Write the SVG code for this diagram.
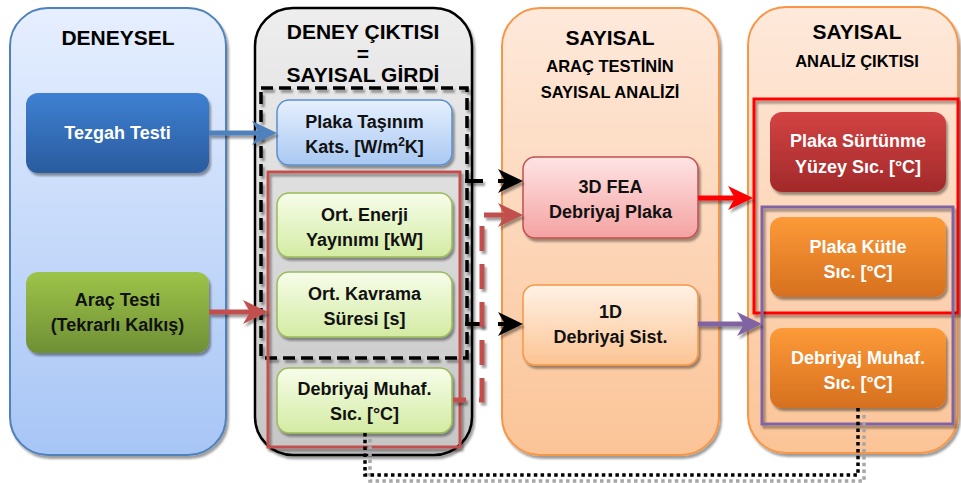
<svg xmlns="http://www.w3.org/2000/svg" width="961" height="483" viewBox="0 0 961 483">
  <style>
    text { font-family: "Liberation Sans", Arial, sans-serif; font-weight: bold; text-anchor: middle; }
    .title { font-size: 21px; fill: #000; }
    .sub { font-size: 16.5px; fill: #000; }
    .lbl { font-size: 18px; fill: #111; }
    .lblw { font-size: 18px; fill: #fff; }
    .sup { font-size: 12px; }
    .node { filter: url(#sh); }
    .col { filter: url(#sh); }
    .conn { fill: none; filter: url(#sh); }
  </style>
  <defs>
    <filter id="sh" filterUnits="userSpaceOnUse" x="0" y="0" width="961" height="483">
      <feDropShadow dx="2" dy="3" stdDeviation="1.2" flood-color="#000" flood-opacity="0.38"/>
    </filter>
    <linearGradient id="gColBlue" x1="0" y1="0" x2="0" y2="1">
      <stop offset="0" stop-color="#e6efff"/><stop offset="1" stop-color="#a7c5f5"/>
    </linearGradient>
    <linearGradient id="gColGray" x1="0" y1="0" x2="0" y2="1">
      <stop offset="0" stop-color="#eeeeee"/><stop offset="1" stop-color="#c6c6c6"/>
    </linearGradient>
    <linearGradient id="gColPeach" x1="0" y1="0" x2="0" y2="1">
      <stop offset="0" stop-color="#fee9db"/><stop offset="1" stop-color="#fbc497"/>
    </linearGradient>
    <linearGradient id="gBlue" x1="0" y1="0" x2="0" y2="1">
      <stop offset="0" stop-color="#3e80d2"/><stop offset="1" stop-color="#2a5b9e"/>
    </linearGradient>
    <linearGradient id="gGreen" x1="0" y1="0" x2="0" y2="1">
      <stop offset="0" stop-color="#9dc449"/><stop offset="1" stop-color="#6f8f35"/>
    </linearGradient>
    <linearGradient id="gLtBlue" x1="0" y1="0" x2="0" y2="1">
      <stop offset="0" stop-color="#e6f0ff"/><stop offset="1" stop-color="#a9c8f1"/>
    </linearGradient>
    <linearGradient id="gLtGreen" x1="0" y1="0" x2="0" y2="1">
      <stop offset="0" stop-color="#f7fdea"/><stop offset="1" stop-color="#d3eba3"/>
    </linearGradient>
    <linearGradient id="gPink" x1="0" y1="0" x2="0" y2="1">
      <stop offset="0" stop-color="#ffe4e4"/><stop offset="1" stop-color="#f4a2a2"/>
    </linearGradient>
    <linearGradient id="gLtOrange" x1="0" y1="0" x2="0" y2="1">
      <stop offset="0" stop-color="#fff2e6"/><stop offset="1" stop-color="#fcc493"/>
    </linearGradient>
    <linearGradient id="gDkRed" x1="0" y1="0" x2="0" y2="1">
      <stop offset="0" stop-color="#d34343"/><stop offset="1" stop-color="#a2292a"/>
    </linearGradient>
    <linearGradient id="gOrange" x1="0" y1="0" x2="0" y2="1">
      <stop offset="0" stop-color="#fd9a38"/><stop offset="1" stop-color="#d6701f"/>
    </linearGradient>
    <marker id="aBlue" markerUnits="userSpaceOnUse" markerWidth="26" markerHeight="26" viewBox="0 0 26 26" refX="11" refY="13" orient="auto">
      <path d="M0,1 L25,13 L0,25 L7,13 Z" fill="#4f81bd"/>
    </marker>
    <marker id="aRed" markerUnits="userSpaceOnUse" markerWidth="26" markerHeight="26" viewBox="0 0 26 26" refX="11" refY="13" orient="auto-start-reverse">
      <path d="M0,1 L25,13 L0,25 L7,13 Z" fill="#c0504d"/>
    </marker>
    <marker id="aBlack" markerUnits="userSpaceOnUse" markerWidth="26" markerHeight="26" viewBox="0 0 26 26" refX="11" refY="13" orient="auto">
      <path d="M0,1 L25,13 L0,25 L7,13 Z" fill="#000"/>
    </marker>
    <marker id="aBright" markerUnits="userSpaceOnUse" markerWidth="26" markerHeight="26" viewBox="0 0 26 26" refX="11" refY="13" orient="auto">
      <path d="M0,1 L25,13 L0,25 L7,13 Z" fill="#ff0000"/>
    </marker>
    <marker id="aPurple" markerUnits="userSpaceOnUse" markerWidth="26" markerHeight="26" viewBox="0 0 26 26" refX="11" refY="13" orient="auto">
      <path d="M0,1 L25,13 L0,25 L7,13 Z" fill="#8064a2"/>
    </marker>
  </defs>

  <rect width="961" height="483" fill="#fff"/>

  <!-- column containers -->
  <g id="col-deneysel">
    <rect class="col" x="10" y="8" width="216" height="447" rx="38" fill="url(#gColBlue)" stroke="#4f81bd" stroke-width="2"/>
    <text class="title" x="118" y="45">DENEYSEL</text>
  </g>
  <g id="col-deney-ciktisi">
    <rect class="col" x="255" y="8" width="217" height="447" rx="38" fill="url(#gColGray)" stroke="#000" stroke-width="2.5"/>
    <text class="title" x="363" y="39">DENEY ÇIKTISI</text>
    <text class="title" x="363" y="61">=</text>
    <text class="title" x="363" y="82">SAYISAL GİRDİ</text>
  </g>
  <g id="col-sayisal-analiz">
    <rect class="col" x="502" y="8" width="217" height="447" rx="38" fill="url(#gColPeach)" stroke="#f79646" stroke-width="2"/>
    <text class="title" x="610" y="45">SAYISAL</text>
    <text class="sub" x="610" y="72">ARAÇ TESTİNİN</text>
    <text class="sub" x="610" y="98">SAYISAL ANALİZİ</text>
  </g>
  <g id="col-analiz-ciktisi">
    <rect class="col" x="748" y="7" width="210" height="446" rx="38" fill="url(#gColPeach)" stroke="#f79646" stroke-width="2"/>
    <text class="title" x="857" y="39">SAYISAL</text>
    <text class="sub" x="857" y="67">ANALİZ ÇIKTISI</text>
  </g>

  <!-- grouping frames -->
  <g id="frame-girdi" fill="none">
    <rect x="261" y="88" width="206" height="270" stroke="#000" stroke-width="3.5" stroke-dasharray="12 6" filter="url(#sh)"/>
    <rect x="268" y="172" width="192" height="275" stroke="#c0504d" stroke-width="3" filter="url(#sh)"/>
  </g>
  <g id="frame-cikti" fill="none">
    <rect x="754" y="99" width="204" height="214" stroke="#ff0000" stroke-width="3" filter="url(#sh)"/>
    <rect x="762" y="207" width="191" height="217" stroke="#8064a2" stroke-width="3" filter="url(#sh)"/>
  </g>

  <!-- nodes -->
  <g id="tezgah-testi">
    <rect class="node" x="26" y="93" width="183" height="80" rx="12" fill="url(#gBlue)"/>
    <text class="lblw" x="117.5" y="139">Tezgah Testi</text>
  </g>
  <g id="arac-testi">
    <rect class="node" x="26" y="272" width="183" height="81" rx="12" fill="url(#gGreen)"/>
    <text class="lbl" x="117.5" y="306">Araç Testi</text>
    <text class="lbl" x="117.5" y="331">(Tekrarlı Kalkış)</text>
  </g>
  <g id="plaka-tasinim">
    <rect class="node" x="277" y="100" width="175" height="65" rx="12" fill="url(#gLtBlue)" stroke="#5b8fd0" stroke-width="1.5"/>
    <text class="lbl" x="364.5" y="128">Plaka Taşınım</text>
    <text class="lbl" x="364.5" y="153">Kats. [W/m<tspan class="sup" dy="-7">2</tspan><tspan dy="7">K]</tspan></text>
  </g>
  <g id="ort-enerji">
    <rect class="node" x="277" y="193" width="175" height="64" rx="12" fill="url(#gLtGreen)" stroke="#9bbb59" stroke-width="1.5"/>
    <text class="lbl" x="364.5" y="221">Ort. Enerji</text>
    <text class="lbl" x="364.5" y="246">Yayınımı [kW]</text>
  </g>
  <g id="ort-kavrama">
    <rect class="node" x="277" y="272" width="175" height="65" rx="12" fill="url(#gLtGreen)" stroke="#9bbb59" stroke-width="1.5"/>
    <text class="lbl" x="364.5" y="300">Ort. Kavrama</text>
    <text class="lbl" x="364.5" y="325">Süresi [s]</text>
  </g>
  <g id="debriyaj-muhaf-girdi">
    <rect class="node" x="277" y="368" width="175" height="65" rx="12" fill="url(#gLtGreen)" stroke="#9bbb59" stroke-width="1.5"/>
    <text class="lbl" x="364.5" y="395">Debriyaj Muhaf.</text>
    <text class="lbl" x="364.5" y="420">Sıc. [°C]</text>
  </g>
  <g id="fea-3d">
    <rect class="node" x="523" y="157" width="175" height="81" rx="12" fill="url(#gPink)" stroke="#c0504d" stroke-width="1.5"/>
    <text class="lbl" x="610.5" y="193">3D FEA</text>
    <text class="lbl" x="610.5" y="218">Debriyaj Plaka</text>
  </g>
  <g id="sist-1d">
    <rect class="node" x="523" y="285" width="175" height="80" rx="12" fill="url(#gLtOrange)" stroke="#f79646" stroke-width="1.5"/>
    <text class="lbl" x="610.5" y="318">1D</text>
    <text class="lbl" x="610.5" y="343">Debriyaj Sist.</text>
  </g>
  <g id="plaka-surtunme">
    <rect class="node" x="770" y="112" width="176" height="80" rx="12" fill="url(#gDkRed)"/>
    <text class="lblw" x="858" y="147">Plaka Sürtünme</text>
    <text class="lblw" x="858" y="173">Yüzey Sıc. [°C]</text>
  </g>
  <g id="plaka-kutle">
    <rect class="node" x="770" y="217" width="176" height="80" rx="12" fill="url(#gOrange)"/>
    <text class="lblw" x="858" y="253">Plaka Kütle</text>
    <text class="lblw" x="858" y="278">Sıc. [°C]</text>
  </g>
  <g id="debriyaj-muhaf-cikti">
    <rect class="node" x="770" y="328" width="176" height="80" rx="12" fill="url(#gOrange)"/>
    <text class="lblw" x="858" y="364">Debriyaj Muhaf.</text>
    <text class="lblw" x="858" y="389">Sıc. [°C]</text>
  </g>

  <!-- connectors -->
  <g id="connectors">
    <path class="conn" d="M209,133 H263" stroke="#4f81bd" stroke-width="5" marker-end="url(#aBlue)"/>
    <path class="conn" d="M209,312 H254" stroke="#c0504d" stroke-width="5" marker-end="url(#aRed)"/>
    <path class="conn" d="M465,181 H509" stroke="#000" stroke-width="4" stroke-dasharray="18 15" marker-end="url(#aBlack)"/>
    <path class="conn" d="M465,324 H509" stroke="#000" stroke-width="4" stroke-dasharray="18 15" marker-end="url(#aBlack)"/>
    <path class="conn" d="M509,215 H482 V400 H453" stroke="#c0504d" stroke-width="5" stroke-dasharray="25 13" marker-start="url(#aRed)"/>
    <path class="conn" d="M698,198 H739" stroke="#ff0000" stroke-width="5" marker-end="url(#aBright)"/>
    <path class="conn" d="M698,324 H748" stroke="#8064a2" stroke-width="5" marker-end="url(#aPurple)"/>
    <path d="M370,439 V481 H864 V413" fill="none" stroke="#a6a6a6" stroke-width="3.5" stroke-dasharray="3.5 3.3"/>
    <path d="M365,433 V475 H858 V407" fill="none" stroke="#000" stroke-width="3.5" stroke-dasharray="3.5 3.3"/>
  </g>
</svg>
